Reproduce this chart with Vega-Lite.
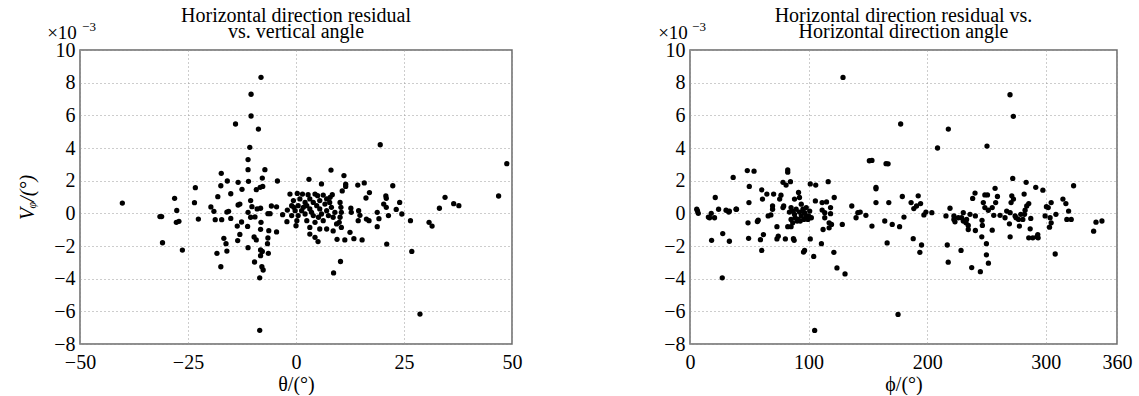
{
  "$schema": "https://vega.github.io/schema/vega-lite/v6.json",
  "background": "white",
  "padding": {"left": 16, "top": 5, "right": 5, "bottom": 0},
  "bounds": "flush",
  "spacing": 178,
  "datasets": {
    "left": [
      {"a": -10.7, "r": 4.04}, {"a": -11.1, "r": 3.29}, {"a": -11.1, "r": 2.67}, {"a": -7.2, "r": 2.67}, {"a": -17.3, "r": 2.45},
      {"a": -7.8, "r": 2.16}, {"a": -15.9, "r": 1.98}, {"a": -13.4, "r": 1.9}, {"a": -17.4, "r": 1.69}, {"a": -11.0, "r": 1.96},
      {"a": -4.3, "r": 1.98}, {"a": -23.3, "r": 1.57}, {"a": -12.5, "r": 1.47}, {"a": -7.7, "r": 1.65}, {"a": -8.3, "r": 1.59},
      {"a": -9.2, "r": 1.45}, {"a": -15.1, "r": 1.2}, {"a": -28.1, "r": 0.92}, {"a": -18.1, "r": 1.02}, {"a": -23.5, "r": 0.65},
      {"a": -10.5, "r": 0.78}, {"a": -13.0, "r": 0.57}, {"a": -13.4, "r": 0.51}, {"a": -19.7, "r": 0.39}, {"a": -10.2, "r": 0.41},
      {"a": -8.2, "r": 0.31}, {"a": -9.0, "r": 0.27}, {"a": -5.7, "r": 0.45}, {"a": -4.5, "r": 0.4}, {"a": -27.6, "r": 0.18},
      {"a": -19.0, "r": 0.12}, {"a": -16.0, "r": 0.08}, {"a": -15.6, "r": 0.12}, {"a": -11.1, "r": 0.06}, {"a": -6.5, "r": -0.02},
      {"a": -6.0, "r": -0.02}, {"a": -3.1, "r": -0.08}, {"a": -31.5, "r": -0.2}, {"a": -31.1, "r": -0.2}, {"a": -22.6, "r": -0.35},
      {"a": -18.7, "r": -0.39}, {"a": -17.2, "r": -0.39}, {"a": -15.1, "r": -0.31}, {"a": -27.7, "r": -0.55}, {"a": -27.1, "r": -0.49},
      {"a": -12.6, "r": -0.53}, {"a": -10.5, "r": -0.24}, {"a": -9.5, "r": -0.22}, {"a": -8.1, "r": -0.55}, {"a": -2.1, "r": -0.51},
      {"a": -13.6, "r": -0.78}, {"a": -11.2, "r": -0.8}, {"a": -6.3, "r": -1.06}, {"a": -4.5, "r": -1.14}, {"a": -8.2, "r": -0.98},
      {"a": -13.0, "r": -1.29}, {"a": -9.7, "r": -1.45}, {"a": -16.7, "r": -1.53}, {"a": -6.5, "r": -1.51}, {"a": -13.5, "r": -1.67},
      {"a": -9.2, "r": -1.63}, {"a": -30.9, "r": -1.8}, {"a": -16.2, "r": -1.86}, {"a": -6.6, "r": -1.86}, {"a": -11.1, "r": -2.1},
      {"a": -26.3, "r": -2.25}, {"a": -16.0, "r": -2.31}, {"a": -8.2, "r": -2.24}, {"a": -7.8, "r": -2.33}, {"a": -18.3, "r": -2.45},
      {"a": -6.4, "r": -2.45}, {"a": -8.2, "r": -2.59}, {"a": -9.6, "r": -2.98}, {"a": -17.4, "r": -3.27}, {"a": -7.9, "r": -3.27},
      {"a": -7.6, "r": -3.47}, {"a": -8.4, "r": -3.95}, {"a": -8.1, "r": 8.33}, {"a": -10.4, "r": 7.29}, {"a": -10.4, "r": 5.96},
      {"a": -14.0, "r": 5.47}, {"a": -8.7, "r": 5.16}, {"a": -40.2, "r": 0.63}, {"a": -8.4, "r": -7.16},
      {"a": 19.5, "r": 4.2}, {"a": 8.1, "r": 2.65}, {"a": 11.1, "r": 2.31}, {"a": 3.0, "r": 2.08}, {"a": 5.9, "r": 1.8},
      {"a": 11.5, "r": 1.78}, {"a": 11.5, "r": 1.65}, {"a": 14.3, "r": 1.73}, {"a": 15.8, "r": 1.86}, {"a": 22.4, "r": 1.69},
      {"a": 10.7, "r": 1.37}, {"a": 17.0, "r": 1.27}, {"a": 8.4, "r": 1.14}, {"a": 7.9, "r": 0.98}, {"a": 20.8, "r": 1.06},
      {"a": 20.9, "r": 0.92}, {"a": 34.5, "r": 0.98}, {"a": 16.2, "r": 0.94},
      {"a": 0.3, "r": 1.22}, {"a": 1.5, "r": 1.18}, {"a": 2.8, "r": 1.14}, {"a": 4.4, "r": 1.18}, {"a": 5.0, "r": 1.08},
      {"a": 6.3, "r": 1.12}, {"a": 7.1, "r": 0.88}, {"a": 3.2, "r": 0.88}, {"a": 0.9, "r": 0.88}, {"a": -0.6, "r": 0.78},
      {"a": 2.1, "r": 0.67}, {"a": 4.0, "r": 0.67}, {"a": 5.5, "r": 0.78}, {"a": -1.0, "r": 0.47}, {"a": 0.5, "r": 0.47},
      {"a": 2.5, "r": 0.47}, {"a": 4.8, "r": 0.47}, {"a": 6.7, "r": 0.57}, {"a": 7.8, "r": 0.67}, {"a": -0.2, "r": 0.16},
      {"a": 1.3, "r": 0.16}, {"a": 3.2, "r": 0.27}, {"a": 5.5, "r": 0.27}, {"a": 7.1, "r": 0.16}, {"a": -1.0, "r": -0.14},
      {"a": 0.5, "r": -0.14}, {"a": 2.1, "r": -0.04}, {"a": 4.0, "r": -0.14}, {"a": 5.9, "r": -0.04}, {"a": 7.5, "r": -0.14},
      {"a": 0.2, "r": -0.45}, {"a": 2.5, "r": -0.45}, {"a": 4.4, "r": -0.55}, {"a": 6.3, "r": -0.45}, {"a": 0.0, "r": -0.76},
      {"a": 3.2, "r": -0.86}, {"a": 5.5, "r": -0.96}, {"a": 8.6, "r": -1.08}, {"a": 4.4, "r": -1.47}, {"a": 3.2, "r": -1.27},
      {"a": 5.1, "r": -1.73}, {"a": 7.1, "r": -0.96}, {"a": 12.5, "r": -1.16}, {"a": 9.5, "r": -1.59}, {"a": 11.3, "r": -1.63},
      {"a": 13.4, "r": -1.55}, {"a": 15.3, "r": -1.63}, {"a": 1.7, "r": 0.37}, {"a": -0.5, "r": 0.37}, {"a": 3.6, "r": 0.06},
      {"a": 5.2, "r": -0.24}, {"a": 8.6, "r": -0.24}, {"a": 8.2, "r": 0.37}, {"a": 9.0, "r": 0.06}, {"a": 9.4, "r": -0.65},
      {"a": -1.4, "r": 1.18}, {"a": -2.0, "r": 0.2},
      {"a": 10.2, "r": 0.67}, {"a": 10.4, "r": 0.37}, {"a": 10.5, "r": 0.06}, {"a": 10.2, "r": -0.24}, {"a": 10.0, "r": -0.55},
      {"a": 10.5, "r": -0.86}, {"a": 12.7, "r": 0.31}, {"a": 12.8, "r": 0.06}, {"a": 14.5, "r": 0.16}, {"a": 14.8, "r": -0.12},
      {"a": 14.4, "r": -0.45}, {"a": 16.3, "r": -0.35}, {"a": 16.9, "r": -0.45}, {"a": 18.8, "r": 0.06}, {"a": 19.2, "r": -0.33},
      {"a": 18.8, "r": -0.82}, {"a": 20.3, "r": 0.57}, {"a": 20.9, "r": 0.37}, {"a": 21.4, "r": -0.14}, {"a": 23.2, "r": 0.24},
      {"a": 24.0, "r": 0.67}, {"a": 24.5, "r": -0.04}, {"a": 26.5, "r": -0.45}, {"a": 30.8, "r": -0.55}, {"a": 31.5, "r": -0.78},
      {"a": 33.2, "r": 0.31}, {"a": 21.0, "r": -1.88}, {"a": 26.8, "r": -2.33}, {"a": 10.3, "r": -2.95}, {"a": 8.7, "r": -3.65},
      {"a": 46.9, "r": 1.06}, {"a": 48.8, "r": 3.04}, {"a": 36.5, "r": 0.59}, {"a": 37.7, "r": 0.47}, {"a": 28.7, "r": -6.17}
    ],
    "right": [
      {"p": 5.7, "r": 0.25}, {"p": 7.0, "r": 0.0}, {"p": 6.3, "r": 0.15}, {"p": 17.9, "r": 0.0}, {"p": 16.5, "r": -0.27},
      {"p": 20.7, "r": -0.27}, {"p": 24.1, "r": 0.25}, {"p": 21.3, "r": 0.97}, {"p": 30.4, "r": 0.19}, {"p": 33.2, "r": 0.14},
      {"p": 39.2, "r": 0.25}, {"p": 36.4, "r": 2.2}, {"p": 48.3, "r": 2.62}, {"p": 54.0, "r": 2.58}, {"p": 50.0, "r": 1.65},
      {"p": 49.7, "r": 0.66}, {"p": 48.9, "r": -0.58}, {"p": 27.6, "r": -1.24}, {"p": 18.2, "r": -1.65}, {"p": 33.2, "r": -1.71},
      {"p": 49.4, "r": -1.53}, {"p": 56.8, "r": -0.5}, {"p": 57.5, "r": -0.42}, {"p": 59.4, "r": -1.61}, {"p": 61.9, "r": -1.3},
      {"p": 60.5, "r": -2.27}, {"p": 60.5, "r": 1.44}, {"p": 64.8, "r": 1.18}, {"p": 61.1, "r": 0.87}, {"p": 70.5, "r": 1.18},
      {"p": 76.7, "r": 1.11}, {"p": 75.6, "r": 0.87}, {"p": 69.6, "r": 0.45}, {"p": 69.6, "r": 0.25}, {"p": 68.2, "r": -0.1},
      {"p": 65.9, "r": -0.16}, {"p": 73.3, "r": -0.82}, {"p": 74.4, "r": -1.4}, {"p": 73.3, "r": -1.57}, {"p": 80.4, "r": -1.57},
      {"p": 82.4, "r": -0.82}, {"p": 78.4, "r": 1.9}, {"p": 81.0, "r": 1.73}, {"p": 84.7, "r": 1.94}, {"p": 82.4, "r": 2.52},
      {"p": 82.4, "r": 2.66}, {"p": 78.4, "r": 0.35}, {"p": 79.0, "r": 0.45},
      {"p": 85.2, "r": 0.35}, {"p": 86.6, "r": 0.14}, {"p": 88.1, "r": -0.06}, {"p": 89.5, "r": 0.25}, {"p": 90.9, "r": -0.37},
      {"p": 85.2, "r": -0.37}, {"p": 93.8, "r": 0.56}, {"p": 95.2, "r": 0.25}, {"p": 91.5, "r": 1.28}, {"p": 96.6, "r": 0.04},
      {"p": 98.0, "r": -0.16}, {"p": 99.4, "r": -0.37}, {"p": 100.9, "r": 0.14}, {"p": 102.3, "r": -0.27}, {"p": 93.8, "r": -0.16},
      {"p": 90.3, "r": -0.47}, {"p": 92.9, "r": -0.47}, {"p": 88.6, "r": -0.27}, {"p": 92.3, "r": 0.08}, {"p": 96.0, "r": -0.37},
      {"p": 88.1, "r": 0.87}, {"p": 92.3, "r": 0.97}, {"p": 98.0, "r": 0.35}, {"p": 100.0, "r": -0.16}, {"p": 83.8, "r": 0.08},
      {"p": 86.6, "r": -0.58},
      {"p": 85.2, "r": -0.82}, {"p": 87.8, "r": -1.65}, {"p": 87.2, "r": -1.55}, {"p": 96.6, "r": -2.27}, {"p": 95.7, "r": -2.37},
      {"p": 104.3, "r": -2.64}, {"p": 101.4, "r": -1.57}, {"p": 101.4, "r": 1.8}, {"p": 106.0, "r": 1.73}, {"p": 105.7, "r": 0.76},
      {"p": 111.4, "r": 0.66}, {"p": 115.1, "r": 0.7}, {"p": 116.5, "r": 1.94}, {"p": 121.6, "r": 0.97}, {"p": 111.4, "r": 0.2},
      {"p": 113.6, "r": 0.04}, {"p": 118.5, "r": 0.35}, {"p": 118.5, "r": -0.02}, {"p": 113.6, "r": -0.27}, {"p": 117.3, "r": -0.58},
      {"p": 117.3, "r": -0.89}, {"p": 112.2, "r": -0.99}, {"p": 119.3, "r": -0.68}, {"p": 110.8, "r": -1.86}, {"p": 121.3, "r": -2.39},
      {"p": 123.9, "r": -3.34}, {"p": 130.7, "r": -3.71}, {"p": 128.4, "r": -0.68}, {"p": 136.4, "r": 0.45}, {"p": 141.5, "r": 0.04},
      {"p": 140.0, "r": -0.27}, {"p": 143.5, "r": 0.08}, {"p": 148.3, "r": -0.12}, {"p": 153.4, "r": 3.24}, {"p": 156.8, "r": 1.59},
      {"p": 156.8, "r": 1.5}, {"p": 156.8, "r": 0.66}, {"p": 153.4, "r": -0.78}, {"p": 167.0, "r": 3.03}, {"p": 167.6, "r": 0.66},
      {"p": 164.2, "r": -0.47}, {"p": 166.2, "r": -1.81}, {"p": 170.5, "r": -0.68}, {"p": 176.7, "r": -0.82}, {"p": 179.0, "r": 1.03},
      {"p": 180.4, "r": -0.23}, {"p": 186.4, "r": 0.66}, {"p": 27.2, "r": -3.95}, {"p": 105.1, "r": -7.17}, {"p": 129.0, "r": 8.32},
      {"p": 208.7, "r": 4.0}, {"p": 250.4, "r": 4.12}, {"p": 188.7, "r": 0.29}, {"p": 191.0, "r": 0.45}, {"p": 192.4, "r": 1.07},
      {"p": 194.4, "r": 0.6}, {"p": 197.2, "r": -0.1}, {"p": 198.9, "r": 0.08}, {"p": 203.9, "r": 0.04}, {"p": 188.2, "r": -1.55},
      {"p": 195.2, "r": -1.94}, {"p": 193.8, "r": -2.39}, {"p": 217.7, "r": -2.99}, {"p": 216.9, "r": -1.94}, {"p": 215.8, "r": -0.16},
      {"p": 219.2, "r": 0.31},
      {"p": 222.5, "r": -0.16}, {"p": 222.5, "r": -0.37}, {"p": 223.4, "r": -0.52}, {"p": 229.0, "r": -0.27}, {"p": 230.4, "r": -0.47},
      {"p": 233.2, "r": -0.37}, {"p": 236.1, "r": -0.06}, {"p": 234.6, "r": -0.74}, {"p": 234.6, "r": -0.99}, {"p": 232.7, "r": -0.58},
      {"p": 230.4, "r": 0.04}, {"p": 226.2, "r": -0.27},
      {"p": 228.5, "r": -2.27}, {"p": 238.3, "r": 0.91}, {"p": 240.3, "r": 1.24}, {"p": 247.3, "r": 0.66}, {"p": 240.6, "r": -0.16},
      {"p": 240.6, "r": -1.05}, {"p": 246.2, "r": -0.43}, {"p": 246.5, "r": -0.74}, {"p": 246.0, "r": -1.44}, {"p": 249.9, "r": -1.86},
      {"p": 249.9, "r": -2.54}, {"p": 251.6, "r": -3.05}, {"p": 237.5, "r": -3.32}, {"p": 244.8, "r": -3.57}, {"p": 248.6, "r": 1.13},
      {"p": 250.8, "r": 1.13}, {"p": 248.6, "r": 0.35}, {"p": 251.5, "r": 0.19}, {"p": 254.8, "r": 0.35}, {"p": 257.2, "r": 1.53},
      {"p": 259.2, "r": 1.03}, {"p": 257.7, "r": 0.66}, {"p": 254.8, "r": -1.03}, {"p": 256.1, "r": -0.12}, {"p": 269.9, "r": 0.04},
      {"p": 269.3, "r": -0.64}, {"p": 269.9, "r": -1.44}, {"p": 272.1, "r": 2.14},
      {"p": 271.3, "r": 1.07}, {"p": 272.7, "r": 0.87}, {"p": 270.7, "r": 0.66}, {"p": 274.9, "r": -0.27}, {"p": 276.9, "r": -0.37},
      {"p": 274.1, "r": -0.16}, {"p": 278.9, "r": -0.06}, {"p": 277.7, "r": -0.78}, {"p": 280.6, "r": -0.37}, {"p": 282.0, "r": -0.06},
      {"p": 282.5, "r": 0.19}, {"p": 283.9, "r": 0.45}, {"p": 285.6, "r": 0.6}, {"p": 281.7, "r": 1.18}, {"p": 267.0, "r": 0.14},
      {"p": 265.6, "r": -0.27}, {"p": 261.4, "r": -0.12},
      {"p": 283.4, "r": 1.9}, {"p": 287.3, "r": -0.31}, {"p": 286.8, "r": -0.95}, {"p": 285.6, "r": -1.5}, {"p": 289.0, "r": -1.5},
      {"p": 292.4, "r": -1.44}, {"p": 293.2, "r": -1.3}, {"p": 293.5, "r": -1.5}, {"p": 291.5, "r": 1.59}, {"p": 297.5, "r": 1.42},
      {"p": 299.4, "r": -0.16}, {"p": 300.5, "r": 0.41}, {"p": 302.0, "r": 0.35}, {"p": 304.5, "r": 0.66}, {"p": 303.6, "r": -0.27},
      {"p": 304.5, "r": -0.58}, {"p": 303.1, "r": -0.85}, {"p": 307.9, "r": -2.49}, {"p": 308.5, "r": -0.06}, {"p": 314.4, "r": 0.87},
      {"p": 316.9, "r": 0.6}, {"p": 319.2, "r": 0.14}, {"p": 317.7, "r": -0.37}, {"p": 321.4, "r": -0.37}, {"p": 323.4, "r": 1.69},
      {"p": 340.3, "r": -1.09}, {"p": 342.3, "r": -0.54}, {"p": 347.3, "r": -0.47},
      {"p": 175.4, "r": -6.19}, {"p": 269.8, "r": 7.26}, {"p": 272.6, "r": 5.94}, {"p": 177.6, "r": 5.47}, {"p": 217.8, "r": 5.16},
      {"p": 151.2, "r": 3.22}, {"p": 165.3, "r": 3.04}, {"p": 15.5, "r": -0.23}, {"p": 32.7, "r": 0.08}, {"p": 38.8, "r": 0.25}
    ]
  },
  "config": {
    "font": "Liberation Serif",
    "view": {"stroke": "#6a6a6a", "strokeWidth": 1.5},
    "axis": {
      "labelFont": "Liberation Serif", "labelFontSize": 20, "labelColor": "black",
      "titleFont": "Liberation Serif", "titleFontSize": 20, "titleFontWeight": "normal", "titleColor": "black",
      "grid": true, "gridDash": [1, 3], "gridColor": "#9a9a9a", "gridWidth": 1,
      "domain": false, "ticks": false, "labelOverlap": false, "labelFlush": false, "tickCount": 30, "format": "d"
    },
    "axisX": {"labelPadding": 8},
    "axisY": {"labelPadding": 5},
    "title": {"font": "Liberation Serif", "fontSize": 20, "fontWeight": "normal", "color": "black", "lineHeight": 16, "anchor": "middle", "offset": -21}
  },
  "hconcat": [
    {
      "width": 432, "height": 294,
      "title": {"text": ["Horizontal direction residual", "vs. vertical angle"]},
      "layer": [
        {
          "data": {"name": "left"},
          "mark": {"type": "circle", "size": 28, "color": "black", "opacity": 1},
          "encoding": {
            "x": {"field": "a", "type": "quantitative", "scale": {"domain": [-50, 50], "nice": false, "zero": false},
                  "axis": {"values": [-50, -25, 0, 25, 50], "title": "θ/(°)", "titlePadding": 2, "tickCount": 30, "format": "d"}},
            "y": {"field": "r", "type": "quantitative", "scale": {"domain": [-8, 10], "nice": false, "zero": false},
                  "axis": {"values": [-8, -6, -4, -2, 0, 2, 4, 6, 8, 10], "title": "Vᵩ/(°)", "titleFontStyle": "italic", "titlePadding": 16, "tickCount": 30, "format": "d"}}
          }
        },
        {
          "data": {"values": [{"t": "×10"}]},
          "mark": {"type": "text", "fontSize": 19, "color": "black", "align": "center", "baseline": "middle", "dx": -18, "dy": -17},
          "encoding": {"x": {"datum": -50}, "y": {"datum": 10}, "text": {"field": "t"}}
        },
        {
          "data": {"values": [{"t": "−3"}]},
          "mark": {"type": "text", "fontSize": 13, "color": "black", "align": "center", "baseline": "middle", "dx": 9, "dy": -23},
          "encoding": {"x": {"datum": -50}, "y": {"datum": 10}, "text": {"field": "t"}}
        }
      ]
    },
    {
      "width": 427, "height": 294,
      "title": {"text": ["Horizontal direction residual vs.", "Horizontal direction angle"]},
      "layer": [
        {
          "data": {"name": "right"},
          "mark": {"type": "circle", "size": 28, "color": "black", "opacity": 1},
          "encoding": {
            "x": {"field": "p", "type": "quantitative", "scale": {"domain": [0, 360], "nice": false},
                  "axis": {"values": [0, 100, 200, 300, 360], "title": "ϕ/(°)", "titlePadding": 2, "tickCount": 30, "format": "d"}},
            "y": {"field": "r", "type": "quantitative", "scale": {"domain": [-8, 10], "nice": false, "zero": false},
                  "axis": {"values": [-8, -6, -4, -2, 0, 2, 4, 6, 8, 10], "title": null, "tickCount": 30, "format": "d"}}
          }
        },
        {
          "data": {"values": [{"t": "×10"}]},
          "mark": {"type": "text", "fontSize": 19, "color": "black", "align": "center", "baseline": "middle", "dx": -17, "dy": -17},
          "encoding": {"x": {"datum": 0}, "y": {"datum": 10}, "text": {"field": "t"}}
        },
        {
          "data": {"values": [{"t": "−3"}]},
          "mark": {"type": "text", "fontSize": 13, "color": "black", "align": "center", "baseline": "middle", "dx": 9, "dy": -23},
          "encoding": {"x": {"datum": 0}, "y": {"datum": 10}, "text": {"field": "t"}}
        }
      ]
    }
  ]
}
